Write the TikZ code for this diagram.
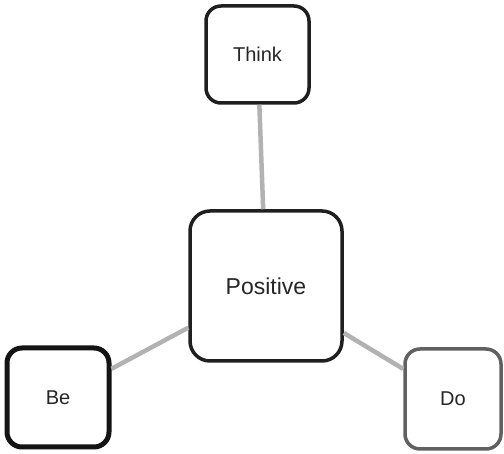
\documentclass[tikz,border=0pt]{standalone}
\usepackage{fontspec}
\setmainfont{Liberation Sans}
\begin{document}
\begin{tikzpicture}[x=1pt,y=-1pt,
  box/.style={draw=black!88, line width=3.5pt, rounded corners=15pt, fill=white,
    inner sep=0pt, text=black!85, font=\fontsize{20}{24}\selectfont},
  link/.style={draw=black!30, line width=4.5pt}]
\useasboundingbox (0,0) rectangle (504,454);
% central idea and its three branches
\node[box, minimum width=152pt, minimum height=150pt, rounded corners=20pt,
  font=\fontsize{23}{27}\selectfont] (pos) at (266,286) {Positive};
\node[box, minimum width=103pt, minimum height=97pt] (think) at (257.5,54.5) {Think};
\node[box, minimum width=102pt, minimum height=99pt, line width=5pt, draw=black!92] (be) at (58,397.5) {Be};
\node[box, minimum width=96pt, minimum height=100pt, draw=black!62] (do) at (453,399) {Do};
% connectors
\draw[link] (think) -- (pos);
\draw[link] (be) -- (pos);
\draw[link] (do) -- (pos);
\end{tikzpicture}
\end{document}
